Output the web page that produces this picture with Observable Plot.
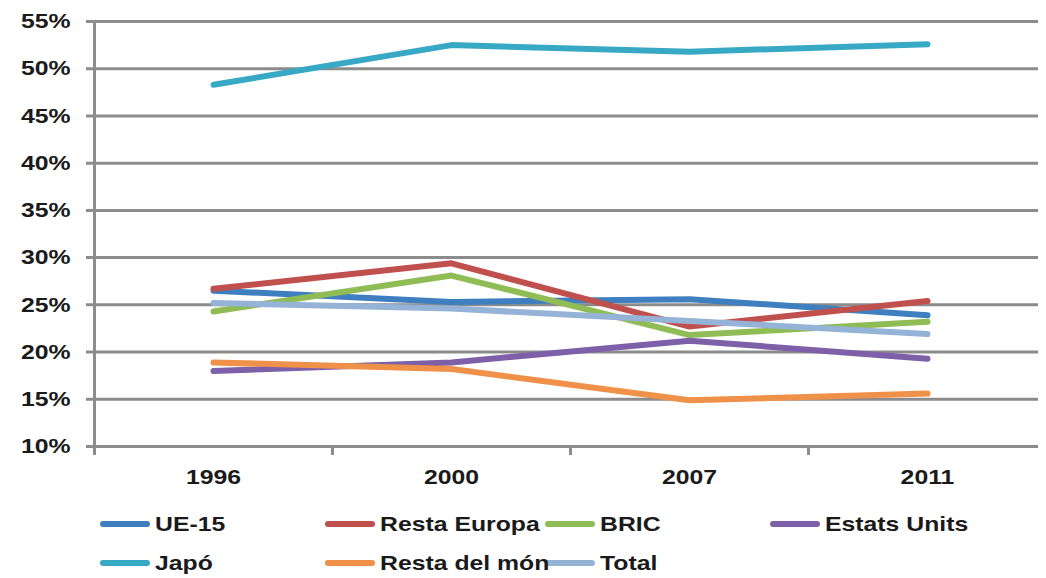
<!DOCTYPE html>
<html><head><meta charset="utf-8">
<script src="https://cdn.jsdelivr.net/npm/d3@7"></script>
<script src="https://cdn.jsdelivr.net/npm/@observablehq/plot@0.6"></script>
<style>
body{margin:0;background:#fff;font-family:"Liberation Sans",Arial,sans-serif;font-weight:bold;color:#1a1a1a;}
#legend{display:grid;grid-template-columns:225px 220px 225px auto;padding-left:100px;padding-top:4px;grid-auto-rows:39px;font-size:21px;}
.item{display:flex;align-items:center;white-space:nowrap}
.sw{width:50px;height:6px;border-radius:3px;margin-right:5px;flex:none}
.lab{display:inline-block;transform:scaleX(1.18);transform-origin:left center}
</style></head><body><div id="chart"></div><div id="legend"></div>
<script>
const years = ["1996", "2000", "2007", "2011"];
const series = ["UE-15", "Resta Europa", "BRIC", "Estats Units", "Japó", "Resta del món", "Total"];
const colors = ["#3f7ebf", "#c0504d", "#8fbc55", "#7d60a8", "#38a9c5", "#f0914a", "#95b3d7"];
const ue15 = [26.5, 25.3, 25.6, 23.9];
const restaEuropa = [26.7, 29.4, 22.7, 25.4];
const bric = [24.3, 28.1, 21.8, 23.2];
const estatsUnits = [18.0, 18.9, 21.2, 19.3];
const japo = [48.3, 52.5, 51.8, 52.6];
const restaMon = [18.9, 18.2, 14.9, 15.6];
const total = [25.2, 24.6, 23.3, 21.9];
const yTicks = [10, 15, 20, 25, 30, 35, 40, 45, 50, 55];

const values = [ue15, restaEuropa, bric, estatsUnits, japo, restaMon, total];
const data = series.flatMap((s, k) => values[k].map((v, i) => ({series: s, i, value: v})));
const idx = d3.range(years.length);
const bounds = d3.range(years.length).map(i => i - 0.5);
const grid = "#8c8c8c";
const stretch = 1.18;

const chart = Plot.plot({
  width: 1046,
  height: 500,
  marginLeft: 94,
  marginRight: 0,
  marginTop: 21,
  marginBottom: 54,
  style: {fontSize: "21px", fontFamily: "Liberation Sans, Arial, sans-serif", fontWeight: "bold", color: "#1a1a1a", background: "#fff"},
  x: {type: "linear", domain: [-0.5, years.length - 0.5], label: null},
  y: {domain: [10, 55], label: null},
  color: {domain: series, range: colors},
  marks: [
    Plot.ruleY(yTicks, {stroke: grid, strokeWidth: 3, dx: -8}),
    Plot.ruleX([-0.5], {stroke: grid, strokeWidth: 3}),
    Plot.axisX(bounds, {tickSize: 9, tickFormat: () => "", stroke: grid, strokeWidth: 3, strokeOpacity: 1, label: null}),
    Plot.axisX(idx, {tickSize: 0, tickPadding: 23, tickFormat: i => years[i], label: null}),
    Plot.axisY(yTicks, {tickSize: 0, tickPadding: 24, tickFormat: d => d + "%", label: null}),
    Plot.line(data, {x: "i", y: "value", z: "series", stroke: "series", strokeWidth: 6, strokeLinecap: "round", strokeLinejoin: "round"})
  ]
});
document.getElementById("chart").appendChild(chart);
// widen glyphs to match the reference's stretched lettering
chart.querySelectorAll("text").forEach(t => {
  if (!t.textContent) return;
  const w = t.getComputedTextLength();
  if (w > 0) {
    t.setAttribute("textLength", (w * stretch).toFixed(1));
    t.setAttribute("lengthAdjust", "spacingAndGlyphs");
  }
});

const legend = document.getElementById("legend");
series.forEach((s, k) => {
  const it = document.createElement("div");
  it.className = "item";
  const sw = document.createElement("span");
  sw.className = "sw";
  sw.style.background = colors[k];
  it.appendChild(sw);
  const lab = document.createElement("span");
  lab.className = "lab";
  lab.textContent = s;
  it.appendChild(lab);
  legend.appendChild(it);
});
</script></body></html>
